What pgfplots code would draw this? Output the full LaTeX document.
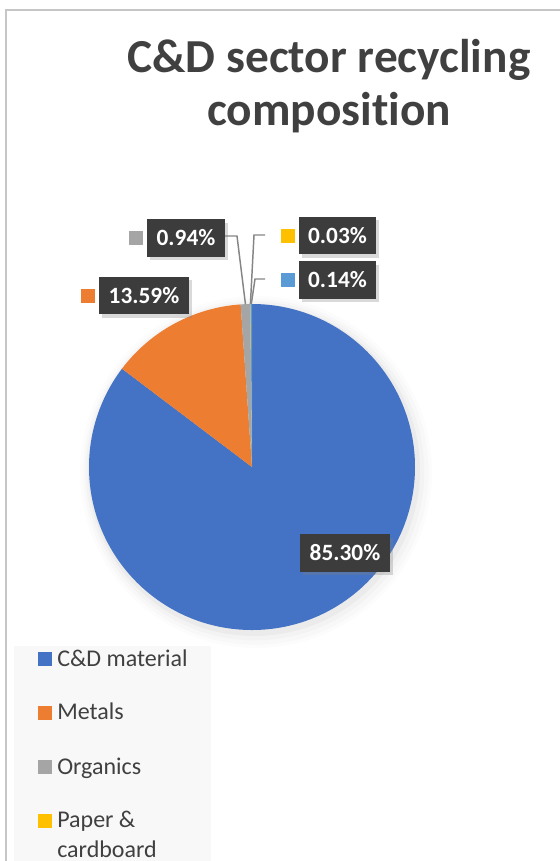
\documentclass[border=0pt]{standalone}
\usepackage{pgfplots}
\usepackage{pgfplotstable}
\pgfplotsset{compat=1.18}
\usetikzlibrary{shadows,calc}
\usepackage{fontspec}
\setmainfont{Carlito}[Ligatures=NoCommon]

\definecolor{cdblue}{HTML}{4472C4}
\definecolor{metorange}{HTML}{ED7D31}
\definecolor{orggray}{HTML}{A5A5A5}
\definecolor{papyellow}{HTML}{FFC000}
\definecolor{othblue}{HTML}{5B9BD5}
\definecolor{txtgray}{HTML}{404040}
\definecolor{boxgray}{HTML}{3C3C3C}
\definecolor{leadgray}{HTML}{858585}
\definecolor{framegray}{HTML}{C6C6C6}
\definecolor{legbg}{HTML}{F8F8F8}

% recycling composition, percent
\pgfplotstableread{
name     value
CDmat    85.30
Metals   13.59
Organics 0.94
Paper    0.03
Other    0.14
}\piedata

\begin{document}
\begin{tikzpicture}[x=0.75pt,y=0.75pt,
    labelbox/.style={fill=boxgray, text=white, font=\fontsize{17.5pt}{20pt}\selectfont\bfseries,
        inner sep=0pt, minimum height=28pt,
        drop shadow={shadow xshift=2pt, shadow yshift=-2.5pt, opacity=0.3}},
    sqmark/.style={minimum size=10.5pt, inner sep=0pt},
    legtext/.style={anchor=base west, inner sep=0pt, text=txtgray, font=\fontsize{18pt}{21pt}\selectfont},
]
\useasboundingbox (0,0) rectangle (560,861);

% slice angles, clockwise from 12 o'clock
\pgfplotstablegetelem{0}{value}\of\piedata \edef\vA{\pgfplotsretval}
\pgfplotstablegetelem{1}{value}\of\piedata \edef\vB{\pgfplotsretval}
\pgfplotstablegetelem{2}{value}\of\piedata \edef\vC{\pgfplotsretval}
\pgfplotstablegetelem{3}{value}\of\piedata \edef\vD{\pgfplotsretval}
\pgfplotstablegetelem{4}{value}\of\piedata \edef\vE{\pgfplotsretval}
\pgfmathsetmacro\aA{90}
\pgfmathsetmacro\aB{\aA-3.6*\vA}
\pgfmathsetmacro\aC{\aB-3.6*\vB}
\pgfmathsetmacro\aD{\aC-3.6*\vC}
\pgfmathsetmacro\aE{\aD-3.6*\vD}
\pgfmathsetmacro\aF{\aE-3.6*\vE}
\pgfmathsetmacro\mC{(\aC+\aD)/2}
\pgfmathsetmacro\mD{(\aD+\aE)/2}
\pgfmathsetmacro\mE{(\aE+\aF)/2}
\def\R{122.25pt}

\begin{axis}[
    at={(0,0)}, anchor=south west,
    width=420pt, height=645.75pt,
    scale only axis,
    xmin=0, xmax=560,
    ymin=0, ymax=861,
    y dir=reverse,
    hide axis,
    clip=false,
]

% frame
\draw[framegray, line width=1.5pt] (axis cs:6,861) -- (axis cs:6,10) -- (axis cs:560,10);

% title
\node[anchor=base, text=txtgray, font=\fontsize{35.5pt}{40pt}\selectfont\bfseries]
    at (axis cs:329,72) {C\&D sector recycling};
\node[anchor=base, text=txtgray, font=\fontsize{35.5pt}{40pt}\selectfont\bfseries]
    at (axis cs:329,125) {composition};

% soft shadow round the pie
\fill[black, opacity=0.012] (axis cs:256,472) circle[radius=132pt];
\fill[black, opacity=0.015] (axis cs:256,472) circle[radius=129.5pt];
\fill[black, opacity=0.02]  (axis cs:255,471) circle[radius=127pt];
\fill[black, opacity=0.03]  (axis cs:254,470) circle[radius=124.5pt];

% slices
\fill[cdblue]    (axis cs:252,467) -- ++(\aA:\R) arc[start angle=\aA, end angle=\aB, radius=\R] -- cycle;
\fill[metorange] (axis cs:252,467) -- ++(\aB:\R) arc[start angle=\aB, end angle=\aC, radius=\R] -- cycle;
\fill[orggray]   (axis cs:252,467) -- ++(\aC:\R) arc[start angle=\aC, end angle=\aD, radius=\R] -- cycle;
\fill[papyellow] (axis cs:252,467) -- ++(\aD:\R) arc[start angle=\aD, end angle=\aE, radius=\R] -- cycle;
\fill[othblue]   (axis cs:252,467) -- ++(\aE:\R) arc[start angle=\aE, end angle=\aF, radius=\R] -- cycle;

% leader lines
\draw[leadgray, line width=1.1pt] (axis cs:225,236) -- (axis cs:237,236) -- ($(axis cs:252,467)+(\mC:\R)$);
\draw[leadgray, line width=1.1pt] (axis cs:265,235) -- (axis cs:254,235) -- ($(axis cs:252,467)+(\mD:\R)$);
\draw[leadgray, line width=1.1pt] (axis cs:265,279) -- (axis cs:255,279) -- ($(axis cs:252,467)+(\mE:\R)$);

% data labels
\node[labelbox, minimum width=58.5pt] at (axis cs:186,238) {0.94\%};
\node[labelbox, minimum width=67.5pt] at (axis cs:144,295.5) {13.59\%};
\node[labelbox, minimum width=57.75pt] at (axis cs:337.5,235.5) {0.03\%};
\node[labelbox, minimum width=57.75pt] at (axis cs:337.5,280) {0.14\%};
\node[labelbox, minimum width=67.5pt] at (axis cs:345,553) {85.30\%};
\node[sqmark, fill=orggray]   at (axis cs:136,238) {};
\node[sqmark, fill=metorange] at (axis cs:88,295.5) {};
\node[sqmark, fill=papyellow] at (axis cs:288,236) {};
\node[sqmark, fill=othblue]   at (axis cs:288,280) {};

% legend
\fill[legbg] (axis cs:14,646) rectangle (axis cs:211,861);
\node[sqmark, fill=cdblue]    at (axis cs:45,659) {};
\node[sqmark, fill=metorange] at (axis cs:45,712.5) {};
\node[sqmark, fill=orggray]   at (axis cs:45,767) {};
\node[sqmark, fill=papyellow] at (axis cs:45,820.5) {};
\node[legtext] at (axis cs:57,666) {C\&D material};
\node[legtext] at (axis cs:57,719) {Metals};
\node[legtext] at (axis cs:57,774) {Organics};
\node[legtext] at (axis cs:57,827) {Paper \&};
\node[legtext] at (axis cs:57,857) {cardboard};
\end{axis}
\end{tikzpicture}
\end{document}
